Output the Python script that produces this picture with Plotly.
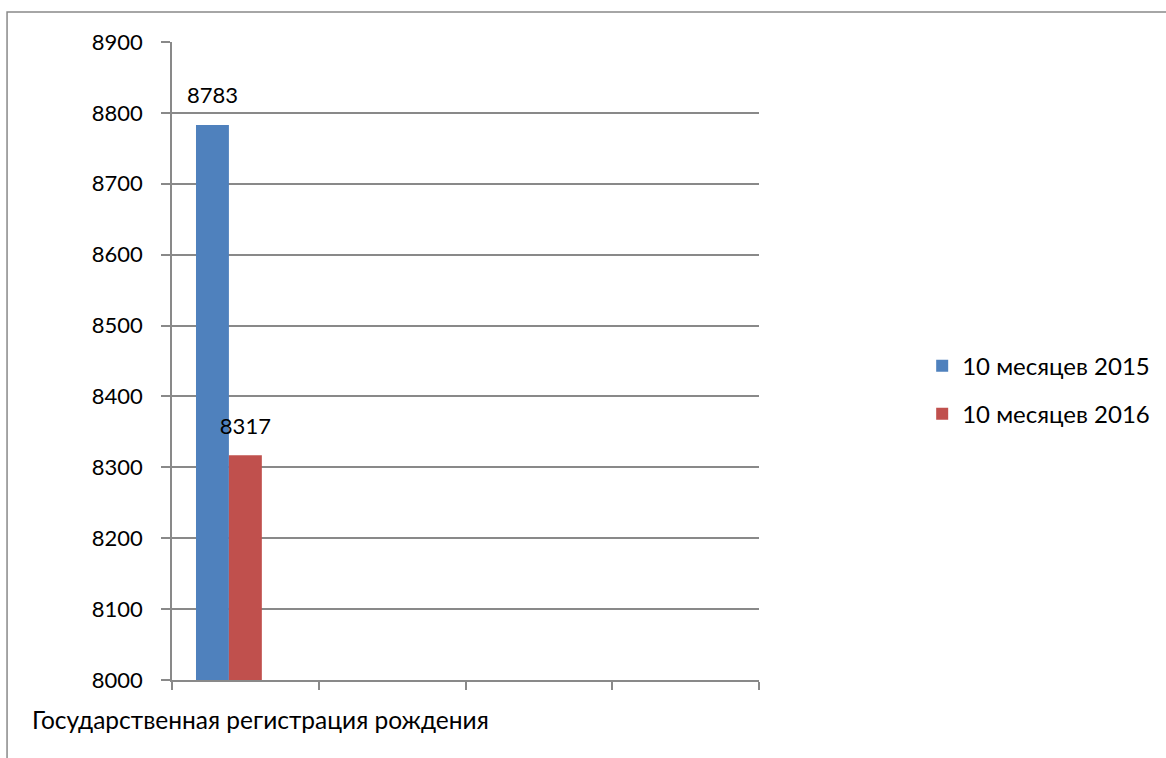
import plotly.graph_objects as go

categories = ["Государственная регистрация рождения", " ", "  ", "   "]
series_names = ["10 месяцев 2015", "10 месяцев 2016"]
values_2015 = [8783]
values_2016 = [8317]
series_colors = ["#4F81BD", "#C0504D"]

FONT = "Lato"
FS = 22
fig = go.Figure()
for name, vals, col in zip(series_names, [values_2015, values_2016], series_colors):
    fig.add_trace(go.Bar(
        name=name, x=categories[:1], y=vals,
        marker=dict(color=col, line=dict(width=0)),
        text=[str(v) for v in vals], textposition="outside",
        texttemplate="<span style='font-size:%dpx'>%%{text}</span><br> " % FS,
        constraintext="none",
        textfont=dict(family=FONT, size=12, color="black"), cliponaxis=False,
        legendgroup=name,
    ))
# empty third slot in the group (series without data)
fig.add_trace(go.Bar(name="", x=categories[:1], y=[None], showlegend=False, hoverinfo="skip"))

fig.update_layout(
    width=1166, height=758,
    margin=dict(l=172, r=407, t=42, b=78, autoexpand=False),
    paper_bgcolor="white", plot_bgcolor="white",
    barmode="group", bargap=0.327, bargroupgap=0,
    font=dict(family=FONT, size=FS, color="black"),
    showlegend=True,
    legend=dict(x=1.278, y=0.4545, xanchor="left", yanchor="middle", tracegroupgap=14,
                font=dict(family=FONT, size=24), itemwidth=30),
    xaxis=dict(type="category", categoryorder="array", categoryarray=categories,
               range=[-0.5, 3.5], tickson="boundaries", ticks="outside", ticklen=8,
               tickcolor="#898989", tickwidth=1.5, showline=True, linecolor="#898989",
               linewidth=1.5, showgrid=False, ticklabelshift=15, ticklabelstandoff=18,
               tickangle=0, automargin=False,
               tickfont=dict(family=FONT, size=24.5)),
    yaxis=dict(range=[8000, 8900], dtick=100, tick0=8000, ticks="outside", ticklen=9,
               tickcolor="#898989", tickwidth=1.5, showline=True, linecolor="#898989",
               linewidth=1.5, showgrid=True, gridcolor="#898989", gridwidth=1.5,
               zeroline=False, ticklabelstandoff=14, automargin=False,
               tickfont=dict(family=FONT, size=FS)),
)
fig.add_shape(type="rect", xref="paper", yref="paper", x0=-0.281, x1=1.8, y0=-0.3, y1=1.047,
              line=dict(color="#898989", width=1.5), fillcolor="rgba(0,0,0,0)", layer="below")
fig.write_html("out.html", config={"displayModeBar": False},
               post_script="document.body.style.margin='0';")
